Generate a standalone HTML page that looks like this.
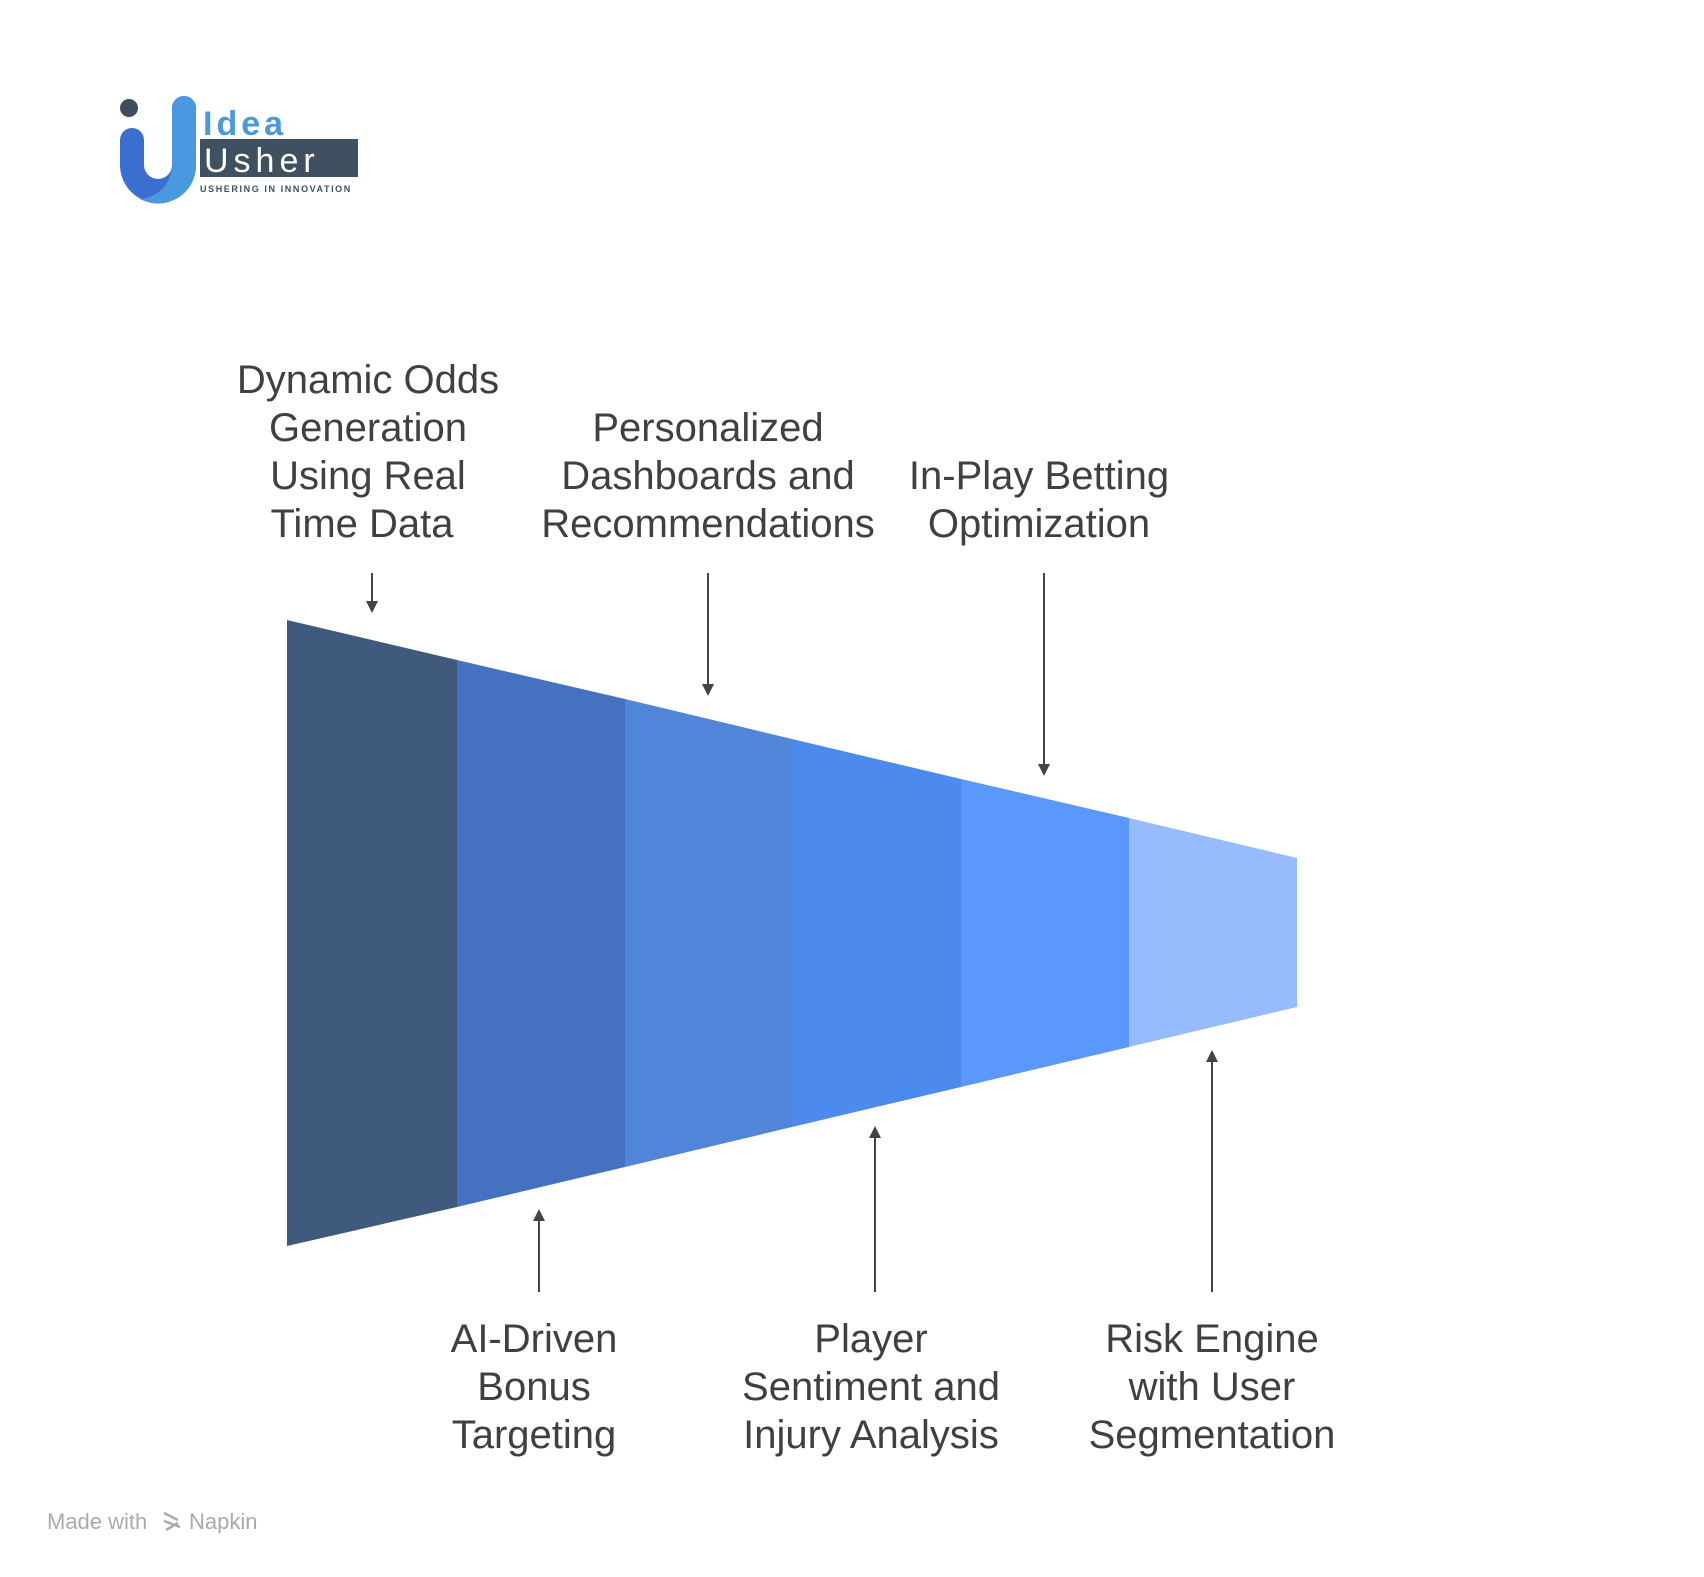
<!DOCTYPE html>
<html><head><style>
html,body{margin:0;padding:0;background:#fff;}
svg{display:block;}
text{font-family:"Liberation Sans",Arial,sans-serif;}
</style></head><body>
<svg width="1704" height="1577" viewBox="0 0 1704 1577" xmlns="http://www.w3.org/2000/svg">
<!-- logo -->
<circle cx="129" cy="108" r="9" fill="#3f4d5c"/>
<path d="M120,140 L120,165 A38,38 0 0 0 196,165 L196,108 A12,12 0 0 0 172,108 L172,165 A14,14 0 0 1 144,165 L144,140 A12,12 0 0 0 120,140 Z" fill="#3a6fd0"/>
<path d="M172,108 A12,12 0 0 1 196,108 L196,165 A38,38 0 0 1 140,199 A34,34 0 0 0 172,165 Z" fill="#4a98e0"/>
<text x="203" y="135" font-size="34" fill="#4a98e0" font-weight="bold" letter-spacing="4">Idea</text>
<rect x="200" y="139" width="158" height="38" fill="#3f5060"/>
<text x="204" y="172" font-size="34" fill="#fff" letter-spacing="5">Usher</text>
<text x="200" y="192" font-size="9" fill="#3f5060" font-weight="bold" letter-spacing="1.6">USHERING IN INNOVATION</text>

<!-- funnel segments -->
<polygon points="287,620 457,660 457,1207 287,1246" fill="#3f5a7c"/>
<polygon points="457,660 625,699 625,1167 457,1207" fill="#4472c0"/>
<polygon points="625,699 792,739 792,1127 625,1167" fill="#5185da"/>
<polygon points="792,739 961,779 961,1087 792,1127" fill="#4d8aed"/>
<polygon points="961,779 1129,818 1129,1047 961,1087" fill="#5b98fd"/>
<polygon points="1129,818 1297,858 1297,1007 1129,1047" fill="#97bcfe"/>

<!-- arrows -->
<g stroke="#444" stroke-width="2" fill="none">
<line x1="372" y1="573" x2="372" y2="603"/>
<line x1="708" y1="573" x2="708" y2="686"/>
<line x1="1044" y1="573" x2="1044" y2="766"/>
<line x1="539" y1="1292" x2="539" y2="1219"/>
<line x1="875" y1="1292" x2="875" y2="1136"/>
<line x1="1212" y1="1292" x2="1212" y2="1060"/>
</g>
<g fill="#444">
<polygon points="366,601 378,601 372,613"/>
<polygon points="702,684 714,684 708,696"/>
<polygon points="1038,764 1050,764 1044,776"/>
<polygon points="533,1221 545,1221 539,1209"/>
<polygon points="869,1138 881,1138 875,1126"/>
<polygon points="1206,1062 1218,1062 1212,1050"/>
</g>

<!-- labels -->
<g font-size="40" fill="#404040" text-anchor="middle">
<text x="368" y="393">Dynamic Odds</text>
<text x="368" y="441">Generation</text>
<text x="368" y="489">Using Real</text>
<text x="362" y="537">Time Data</text>
<text x="708" y="441">Personalized</text>
<text x="708" y="489">Dashboards and</text>
<text x="708" y="537">Recommendations</text>
<text x="1039" y="489">In-Play Betting</text>
<text x="1039" y="537">Optimization</text>
<text x="534" y="1352">AI-Driven</text>
<text x="534" y="1400">Bonus</text>
<text x="534" y="1448">Targeting</text>
<text x="871" y="1352">Player</text>
<text x="871" y="1400">Sentiment and</text>
<text x="871" y="1448">Injury Analysis</text>
<text x="1212" y="1352">Risk Engine</text>
<text x="1212" y="1400">with User</text>
<text x="1212" y="1448">Segmentation</text>
</g>
<text x="47" y="1529" font-size="22" fill="#aaa">Made with</text>
<g stroke="#aaa" stroke-width="2.5"><line x1="164" y1="1513" x2="178" y2="1520"/><line x1="164" y1="1521" x2="180" y2="1527"/><line x1="166" y1="1530" x2="178" y2="1523"/></g>
<text x="189" y="1529" font-size="22" fill="#aaa">Napkin</text>
</svg>
</body></html>
